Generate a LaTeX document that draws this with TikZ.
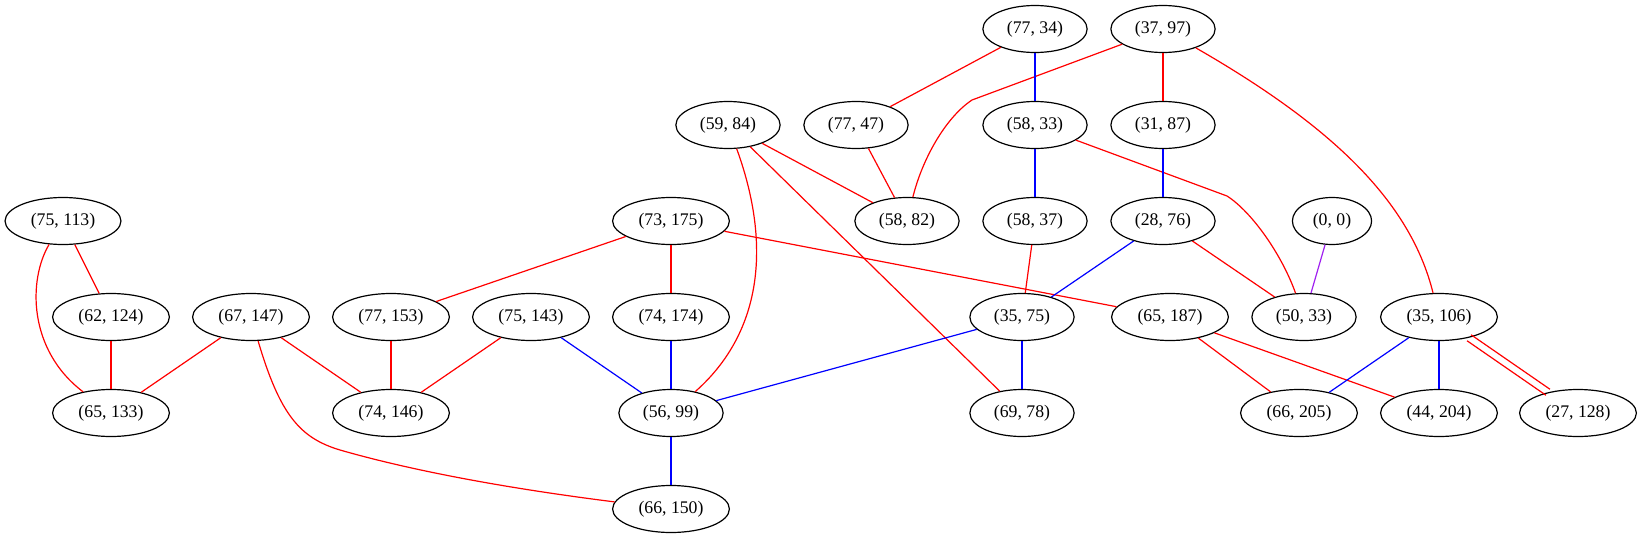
\documentclass[tikz,border=0pt]{standalone}
\usepackage{fontspec}
\setmainfont{Liberation Serif}
\usetikzlibrary{shapes.geometric}
\definecolor{gvpurple}{HTML}{A020F0}

\begin{document}
\begin{tikzpicture}[x=0.75pt, y=-0.75pt,
	vtx/.style={ellipse, draw, line width=0.9pt, inner xsep=6.6pt, inner ysep=2pt, minimum height=35.25pt, font=\fontsize{13.3}{16}\selectfont},
	redge/.style={draw=red, line width=0.9pt},
	bedge/.style={draw=blue, line width=0.9pt},
	pedge/.style={draw=gvpurple, line width=0.9pt}]
						\useasboundingbox (0,0) rectangle (1643,539);
						\node[vtx] (p7734) at (1035,29) {(77, 34)};
						\node[vtx] (p3797) at (1163,29) {(37, 97)};
						\node[vtx] (p5984) at (728,125) {(59, 84)};
						\node[vtx] (p7747) at (856,125) {(77, 47)};
						\node[vtx] (p5833) at (1035,125) {(58, 33)};
						\node[vtx] (p3187) at (1163,125) {(31, 87)};
						\node[vtx] (p75113) at (63,221) {(75, 113)};
						\node[vtx] (p73175) at (671,221) {(73, 175)};
						\node[vtx] (p5882) at (907,221) {(58, 82)};
						\node[vtx] (p5837) at (1035,221) {(58, 37)};
						\node[vtx] (p2876) at (1163,221) {(28, 76)};
						\node[vtx] (p00) at (1332,221) {(0, 0)};
						\node[vtx] (p62124) at (111,317) {(62, 124)};
						\node[vtx] (p67147) at (251,317) {(67, 147)};
						\node[vtx] (p77153) at (391,317) {(77, 153)};
						\node[vtx] (p75143) at (531,317) {(75, 143)};
						\node[vtx] (p74174) at (671,317) {(74, 174)};
						\node[vtx] (p3575) at (1022,317) {(35, 75)};
						\node[vtx] (p65187) at (1170,317) {(65, 187)};
						\node[vtx] (p5033) at (1304,317) {(50, 33)};
						\node[vtx] (p35106) at (1439,317) {(35, 106)};
						\node[vtx] (p65133) at (111,413) {(65, 133)};
						\node[vtx] (p74146) at (391,413) {(74, 146)};
						\node[vtx] (p5699) at (671,413) {(56, 99)};
						\node[vtx] (p6978) at (1022,413) {(69, 78)};
						\node[vtx] (p66205) at (1299,413) {(66, 205)};
						\node[vtx] (p44204) at (1439,413) {(44, 204)};
						\node[vtx] (p27128) at (1578,413) {(27, 128)};
						\node[vtx] (p66150) at (671,509) {(66, 150)};
						
						\draw[redge] (p7734) -- (p7747);
						\draw[redge] (p3797) -- (p3187);
						\draw[redge] (p5984) -- (p5882);
						\draw[redge] (p5984) -- (p6978);
						\draw[redge] (p7747) -- (p5882);
						\draw[redge] (p75113) -- (p62124);
						\draw[redge] (p73175) -- (p77153);
						\draw[redge] (p73175) -- (p74174);
						\draw[redge] (p73175) -- (p65187);
						\draw[redge] (p5837) -- (p3575);
						\draw[redge] (p2876) -- (p5033);
						\draw[redge] (p62124) -- (p65133);
						\draw[redge] (p67147) -- (p65133);
						\draw[redge] (p67147) -- (p74146);
						\draw[redge] (p77153) -- (p74146);
						\draw[redge] (p75143) -- (p74146);
						\draw[redge] (p65187) -- (p66205);
						\draw[redge] (p65187) -- (p44204);
						\draw[redge] (p3797) -- (972,100) .. controls (945,118) and (922,160) .. (p5882);
						\draw[redge] (p3797) .. controls (1330,125) and (1410,200) .. (p35106);
						\draw[redge] (p5984) .. controls (770,240) and (765,330) .. (p5699);
						\draw[redge] (p5833) -- (1227,196) .. controls (1252,212) and (1282,255) .. (p5033);
						\draw[redge] (p75113) .. controls (28,280) and (28,350) .. (p65133);
						\draw[redge] (p67147) .. controls (280,415) and (300,438) .. (340,450) .. controls (420,473) and (520,490) .. (p66150);
						\draw[redge, transform canvas={shift={(-1.5pt,-2.25pt)}}] (p35106) -- (p27128);
						\draw[redge, transform canvas={shift={(1.5pt,2.25pt)}}] (p35106) -- (p27128);
						
						\draw[bedge] (p7734) -- (p5833);
						\draw[bedge] (p5833) -- (p5837);
						\draw[bedge] (p3187) -- (p2876);
						\draw[bedge] (p2876) -- (p3575);
						\draw[bedge] (p75143) -- (p5699);
						\draw[bedge] (p74174) -- (p5699);
						\draw[bedge] (p3575) -- (p5699);
						\draw[bedge] (p3575) -- (p6978);
						\draw[bedge] (p35106) -- (p66205);
						\draw[bedge] (p35106) -- (p44204);
						\draw[bedge] (p5699) -- (p66150);
						\draw[pedge] (p00) -- (p5033);
\end{tikzpicture}
\end{document}
